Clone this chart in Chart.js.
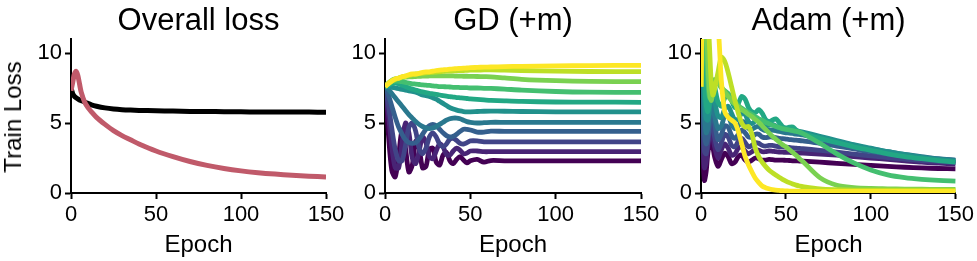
<!DOCTYPE html>
<html><head><meta charset="utf-8">
<script src="https://cdn.jsdelivr.net/npm/chart.js@4.4.1/dist/chart.umd.min.js"></script>
<style>
html,body{margin:0;padding:0;background:#fff;width:977px;height:261px;overflow:hidden;font-family:"Liberation Sans",Arial,Helvetica,sans-serif;}
canvas{position:absolute;top:0;}
.t{position:absolute;white-space:nowrap;color:#000;transform:translate(-50%,-50%);line-height:1;}
.title{font-size:31px;top:18.5px;}
.xl{font-size:24px;top:243.5px;}
.yl{font-size:24px;left:12.5px;top:116.5px;transform:translate(-50%,-50%) rotate(-90deg);}
</style></head><body>
<canvas id="c1" width="360" height="261" style="left:0px"></canvas>
<canvas id="c2" width="345" height="261" style="left:330px"></canvas>
<canvas id="c3" width="332" height="261" style="left:645px"></canvas>
<div class="t title" style="left:198.5px">Overall loss</div>
<div class="t title" style="left:513px">GD (+m)</div>
<div class="t title" style="left:828.5px">Adam (+m)</div>
<div class="t xl" style="left:198.5px">Epoch</div>
<div class="t xl" style="left:513px">Epoch</div>
<div class="t xl" style="left:828.5px">Epoch</div>
<div class="t yl">Train Loss</div>
<script>
// ---- tick labels ----
const xTickValues = [0, 50, 100, 150];
const yTickValues = [0, 5, 10];

// ---- Overall loss ----
const overallEpochs = [0,1,2,3,4,5,6,8,10,12,15,20,25,30,35,40,50,60,70,80,90,100,110,120,130,140,150];
const overallRed   = [7.3,7.9,8.5,8.7,8.4,7.8,7.2,6.5,6.1,5.8,5.4,4.9,4.45,4.1,3.8,3.5,3.0,2.6,2.25,1.97,1.75,1.58,1.45,1.35,1.27,1.2,1.15];
const overallBlack = [7.5,7.1,6.9,6.8,6.72,6.65,6.6,6.5,6.4,6.3,6.2,6.08,6.0,5.95,5.92,5.9,5.87,5.85,5.83,5.82,5.81,5.8,5.79,5.79,5.78,5.78,5.77];

// ---- GD (+m) ----
const gdEpochs = [0,2,4,6,8,10,12,14,16,18,20,22,24,26,28,30,32,34,36,38,40,42,44,46,48,50,54,58,62,70,80,100,120,150];
const gd0  = [7.6,4.2,1.6,1.15,2.7,4.5,3.2,1.5,2.0,3.7,3.2,1.8,1.9,3.1,3.2,2.2,2.0,2.7,2.9,2.3,2.1,2.4,2.6,2.35,2.15,2.3,2.4,2.2,2.32,2.3,2.3,2.3,2.3,2.3];
const gd1  = [7.6,5.6,3.3,1.8,1.8,3.6,5.0,4.3,2.5,2.1,3.0,4.0,3.6,2.6,2.45,3.0,3.5,3.3,2.75,2.7,3.0,3.2,3.05,2.8,2.85,3.0,3.0,2.95,2.95,2.95,2.95,2.95,2.95,2.95];
const gd2  = [7.6,6.3,4.6,3.1,2.3,2.3,3.4,4.7,5.0,4.4,3.2,2.8,3.2,4.0,4.3,4.0,3.5,3.3,3.5,3.85,3.9,3.75,3.55,3.5,3.6,3.72,3.72,3.65,3.65,3.65,3.65,3.65,3.65,3.65];
const gd3  = [7.6,7.0,6.2,5.4,4.7,4.2,3.8,3.6,3.55,3.6,3.85,4.2,4.55,4.8,4.9,4.8,4.55,4.3,4.1,4.0,4.05,4.2,4.4,4.55,4.55,4.5,4.35,4.35,4.42,4.4,4.4,4.4,4.4,4.4];
const gd4  = [7.6,7.4,7.1,6.8,6.5,6.2,5.9,5.6,5.35,5.1,4.9,4.75,4.65,4.6,4.65,4.75,4.9,5.05,5.2,5.3,5.35,5.35,5.3,5.2,5.1,5.05,5.0,5.02,5.05,5.05,5.05,5.05,5.05,5.05];
const gd5  = [7.6,7.6,7.55,7.5,7.45,7.4,7.35,7.3,7.25,7.2,7.1,7.0,6.95,6.9,6.8,6.7,6.55,6.4,6.25,6.1,6.0,5.92,5.86,5.82,5.8,5.8,5.82,5.84,5.85,5.84,5.82,5.8,5.8,5.8];
const gd6  = [7.6,7.7,7.8,7.85,7.8,7.7,7.6,7.5,7.42,7.35,7.28,7.22,7.17,7.12,7.08,7.04,7.0,6.96,6.92,6.88,6.85,6.82,6.8,6.78,6.75,6.72,6.68,6.65,6.62,6.58,6.54,6.5,6.49,6.48];
const gd7  = [7.6,7.8,7.95,8.0,7.98,7.95,7.9,7.85,7.8,7.78,7.75,7.72,7.7,7.68,7.65,7.63,7.6,7.6,7.58,7.57,7.55,7.55,7.53,7.52,7.52,7.5,7.5,7.48,7.47,7.42,7.35,7.25,7.2,7.19];
const gd8  = [7.6,7.85,8.05,8.15,8.2,8.25,8.27,8.3,8.3,8.32,8.33,8.35,8.35,8.36,8.37,8.37,8.37,8.37,8.37,8.36,8.36,8.35,8.35,8.34,8.34,8.33,8.32,8.31,8.3,8.22,8.12,8.02,7.97,7.95];
const gd9  = [7.6,7.85,8.0,8.1,8.2,8.3,8.35,8.4,8.45,8.5,8.52,8.55,8.58,8.6,8.62,8.64,8.66,8.68,8.7,8.71,8.72,8.73,8.74,8.75,8.76,8.77,8.78,8.79,8.8,8.78,8.75,8.7,8.68,8.67];
const gd10 = [7.6,7.8,8.0,8.15,8.2,8.3,8.35,8.45,8.5,8.5,8.55,8.62,8.65,8.65,8.7,8.75,8.78,8.8,8.82,8.85,8.87,8.88,8.9,8.92,8.93,8.95,8.97,8.99,9.0,9.03,9.05,9.08,9.1,9.12];

// ---- Adam (+m) ----
const adamEpochs = [0,1,2,3,4,5,6,7,8,10,12,14,16,18,20,22,24,26,28,30,32,34,36,38,40,42,44,46,48,50,52,54,56,58,60,70,80,90,100,110,120,130,140,150];
const adam0  = [7.4,3.0,0.9,1.5,2.8,3.6,3.85,3.3,2.6, 1.9,2.4,2.85,2.6,2.1,2.2,2.6,2.7,2.35,2.2,2.35,2.5,2.45,2.35,2.35,2.4,2.38,2.35,2.35,2.35,2.33,2.32,2.3,2.3,2.28,2.27, 2.2,2.12,2.05,1.97,1.9,1.84,1.79,1.75,1.72];
const adam1  = [7.5,4.0,1.8,2.2,3.3,4.2,4.5,4.0,3.3, 2.5,3.1,3.5,3.2,2.7,2.8,3.2,3.3,3.0,2.8,2.95,3.1,3.05,2.95,2.95,3.0,2.98,2.95,2.93,2.92,2.9,2.9,2.88,2.87,2.86,2.85, 2.78,2.7,2.6,2.5,2.4,2.3,2.2,2.13,2.07];
const adam2  = [7.5,5.3,3.0,2.8,3.6,4.6,5.1,4.8,4.0, 3.1,3.6,4.2,4.0,3.4,3.3,3.7,3.9,3.6,3.3,3.4,3.6,3.55,3.4,3.35,3.4,3.4,3.35,3.3,3.3,3.28,3.25,3.22,3.2,3.18,3.16, 3.05,2.92,2.78,2.65,2.52,2.42,2.32,2.25,2.18];
const adam3  = [7.6,6.5,4.2,3.5,4.0,5.0,5.7,5.6,5.0, 3.8,4.2,4.8,4.7,4.1,3.9,4.2,4.5,4.3,4.0,4.0,4.2,4.2,4.0,3.95,4.0,4.0,3.95,3.9,3.88,3.85,3.82,3.8,3.77,3.75,3.72, 3.55,3.35,3.15,2.95,2.8,2.65,2.52,2.42,2.33];
const adam4  = [7.6,7.5,5.5,4.3,4.6,5.7,6.4,6.2,5.5, 4.6,4.8,5.5,5.5,4.9,4.6,4.8,5.1,5.0,4.6,4.55,4.7,4.75,4.55,4.45,4.5,4.5,4.45,4.4,4.35,4.3,4.28,4.25,4.2,4.18,4.15, 3.9,3.65,3.4,3.15,2.95,2.75,2.6,2.45,2.35];
const adam5  = [7.6,8.5,6.8,5.3,5.2,6.0,6.8,7.0,6.6, 5.5,5.4,6.0,6.2,5.7,5.2,5.3,5.7,5.6,5.1,4.95,5.15,5.2,5.0,4.8,4.85,4.9,4.8,4.65,4.6,4.6,4.55,4.5,4.45,4.4,4.35, 4.05,3.75,3.45,3.2,2.95,2.75,2.55,2.4,2.28];
const adam6  = [7.6,9.5,8.0,6.3,5.8,6.4,7.3,7.8,7.6, 6.5,6.2,6.8,7.1,6.6,6.1,6.4,6.9,6.7,6.1,5.8,5.75,5.95,5.7,5.25,5.1,5.2,5.3,5.05,4.75,4.65,4.7,4.72,4.5,4.35,4.25, 3.9,3.6,3.3,3.05,2.8,2.6,2.45,2.32,2.2];
const adam7  = [7.6,11,12.5,10.5,8.0,6.8,7.0,7.8,8.1, 7.9,7.5,7.3,7.1,6.8,6.5,6.25,6.05,5.9,5.75,5.6,5.45,5.3,5.2,5.05,4.95,4.85,4.75,4.68,4.6,4.55,4.5,4.45,4.4,4.35,4.25, 3.55,2.8,2.15,1.65,1.3,1.1,0.98,0.9,0.85];
const adam8  = [7.6,13,15,13,9.5,7.2,6.6,7.2,7.8, 7.9,7.6,7.2,6.9,6.6,6.35,6.15,5.95,5.8,5.6,5.45,5.25,5.05,4.8,4.55,4.3,4.05,3.85,3.65,3.45,3.3,3.1,2.9,2.7,2.45,2.25, 1.1,0.55,0.38,0.32,0.3,0.28,0.27,0.26,0.25];
const adam9  = [7.6,14,16,15,13,10.5,8.0,7.0,7.4, 8.6,9.7,9.4,8.6,7.6,6.6,5.7,5.0,4.7,4.75,4.2,3.2,2.6,2.2,1.9,1.65,1.45,1.28,1.12,0.98,0.85,0.74,0.64,0.56,0.5,0.45, 0.3,0.24,0.21,0.2,0.2,0.2,0.2,0.2,0.2];
const adam10 = [7.6,15,17,17,16,15,14,13.5,13, 12,8.0,5.8,5.4,5.2,5.0,4.4,3.5,2.6,2.0,1.5,1.05,0.75,0.5,0.38,0.3,0.24,0.2,0.18,0.16,0.15,0.14,0.13,0.13,0.12,0.12, 0.12,0.12,0.12,0.12,0.12,0.12,0.12,0.12,0.12];

// ---- colours ----
const viridis = ['#440154','#482475','#414487','#355f8d','#2a788e','#21918c','#22a884','#44bf70','#7ad151','#bddf26','#fde725'];
const overallColors = {red:'#c05a6a', black:'#000000'};

const FONT = '"Liberation Sans", Arial, Helvetica, sans-serif';
function pts(xs, ys){ return xs.map((x,i)=>({x:x, y:ys[i]})); }
function ds(xs, ys, color, w){
  return {data: pts(xs, ys), borderColor: color, borderWidth: w, fill:false, pointRadius:0, tension:0.3, borderCapStyle:'butt', borderJoinStyle:'round'};
}
function makeChart(id, datasets, yWidth, padRight){
  return new Chart(document.getElementById(id), {
    type:'line',
    data:{datasets: datasets},
    options:{
      responsive:false, animation:false, devicePixelRatio:1, events:[],
      layout:{padding:{left:0, right:padRight, top:39, bottom:0}},
      plugins:{legend:{display:false}, tooltip:{enabled:false}, title:{display:false}},
      scales:{
        x:{type:'linear', min:0, max:150,
          afterFit:function(s){ s.height = 68; },
          afterBuildTicks:function(s){ s.ticks = xTickValues.map(v=>({value:v})); },
          grid:{display:true, drawOnChartArea:false, drawTicks:true, tickLength:6, tickWidth:2, tickColor:'#000'},
          border:{display:true, width:2, color:'#000'},
          ticks:{color:'#000', font:{family:FONT, size:22}, padding:3, maxRotation:0, autoSkip:false}
        },
        y:{type:'linear', min:0, max:11,
          afterFit:function(s){ s.width = yWidth; },
          afterBuildTicks:function(s){ s.ticks = yTickValues.map(v=>({value:v})); },
          grid:{display:true, drawOnChartArea:false, drawTicks:true, tickLength:6, tickWidth:2, tickColor:'#000'},
          border:{display:true, width:2, color:'#000'},
          ticks:{color:'#000', font:{family:FONT, size:22}, padding:3, autoSkip:false}
        }
      }
    }
  });
}

// Overall: red drawn on top (first dataset is on top in Chart.js)
makeChart('c1', [
  ds(overallEpochs, overallRed, overallColors.red, 5),
  ds(overallEpochs, overallBlack, overallColors.black, 5)
], 71, 34);

const gdSeries = [gd0,gd1,gd2,gd3,gd4,gd5,gd6,gd7,gd8,gd9,gd10];
const gdSets = gdSeries.map((s,i)=>ds(gdEpochs, s, viridis[i], 4.8)).reverse();
makeChart('c2', gdSets, 55, 34);

const adamSeries = [adam0,adam1,adam2,adam3,adam4,adam5,adam6,adam7,adam8,adam9,adam10];
const adamSets = adamSeries.map((s,i)=>ds(adamEpochs, s, viridis[i], 4.8)).reverse();
makeChart('c3', adamSets, 56, 21);
</script>
</body></html>
